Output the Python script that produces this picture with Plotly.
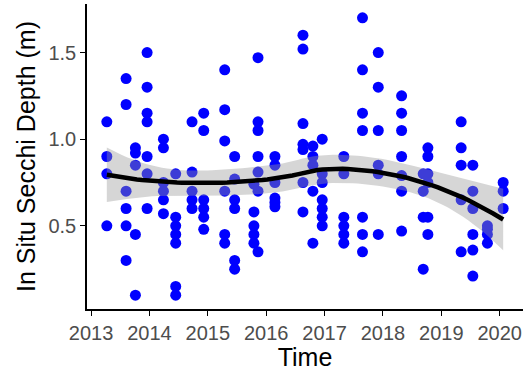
import numpy as np
import plotly.graph_objects as go

# Sampling dates (decimal years) and in situ Secchi depths (m), grouped by sampling date
sample_years = [2013.27, 2013.60, 2013.76, 2013.96, 2014.24, 2014.45, 2014.73, 2014.93,
                2015.29, 2015.46, 2015.79, 2015.86, 2016.15, 2016.63, 2016.80, 2016.96,
                2017.33, 2017.65, 2017.92, 2018.32, 2018.69, 2018.77, 2019.34, 2019.54,
                2019.79, 2020.06]
depths_by_date = [
    [1.10, 0.90, 0.80, 0.50],
    [1.35, 1.20, 0.70, 0.60, 0.50, 0.30],
    [0.95, 0.92, 0.85, 0.45, 0.10],
    [1.50, 1.30, 1.15, 1.10, 0.90, 0.80, 0.60],
    [1.00, 0.95, 0.75, 0.70, 0.65, 0.57],
    [0.80, 0.55, 0.50, 0.45, 0.40, 0.15, 0.10],
    [1.10, 0.81, 0.70, 0.65, 0.60],
    [1.15, 1.05, 0.65, 0.60, 0.55, 0.48],
    [1.40, 1.17, 0.99, 0.70, 0.45, 0.40],
    [0.90, 0.77, 0.65, 0.60, 0.30, 0.25],
    [0.74, 0.58, 0.50, 0.45, 0.40],
    [1.47, 1.10, 1.05, 0.90, 0.81, 0.70, 0.35],
    [0.90, 0.85, 0.75, 0.66, 0.635, 0.61],
    [1.60, 1.52, 1.09, 0.97, 0.94, 0.75, 0.58],
    [0.96, 0.90, 0.85, 0.70, 0.40],
    [1.00, 0.80, 0.75, 0.65, 0.60, 0.55, 0.50],
    [0.90, 0.80, 0.55, 0.50, 0.45, 0.40],
    [1.70, 1.40, 1.15, 1.05, 0.55, 0.45, 0.35],
    [1.50, 1.30, 1.05, 0.85, 0.80, 0.45],
    [1.25, 1.15, 1.05, 0.90, 0.79, 0.70, 0.47],
    [0.80, 0.70, 0.55, 0.25],
    [0.95, 0.90, 0.80, 0.75, 0.55, 0.45],
    [1.10, 0.95, 0.85, 0.65, 0.35],
    [0.85, 0.70, 0.60, 0.45, 0.36, 0.21],
    [0.50, 0.48, 0.45, 0.40],
    [0.75, 0.70, 0.60],
]
x_ticks = [2013, 2014, 2015, 2016, 2017, 2018, 2019, 2020]
y_ticks = [0.5, 1.0, 1.5]
smooth_span = 1.0

x = np.array([t for t, ds in zip(sample_years, depths_by_date) for _ in ds])
y = np.array([d for ds in depths_by_date for d in ds])


def loess_rows(xd, x0s, span=0.75):
    n = len(xd)
    q = int(np.floor(n * min(span, 1.0)))
    rows = []
    for x0 in x0s:
        d = np.abs(xd - x0)
        h = np.sort(d)[q - 1] * max(1.0, span)
        w = np.clip(1 - (d / h) ** 3, 0, None) ** 3
        X = np.column_stack([np.ones(n), xd - x0, (xd - x0) ** 2])
        XtW = X.T * w
        A = np.linalg.pinv(XtW @ X) @ XtW
        rows.append(A[0])
    return np.array(rows)


L = loess_rows(x, x, smooth_span)
res = y - L @ y
IL = np.eye(len(x)) - L
M = IL.T @ IL
one_delta = np.trace(M)
two_delta = np.trace(M @ M)
sigma = np.sqrt(np.sum(res ** 2) / one_delta)
df = one_delta ** 2 / two_delta
z = 1.959964
tq = z + (z ** 3 + z) / (4 * df) + (5 * z ** 5 + 16 * z ** 3 + 3 * z) / (96 * df ** 2)

xs = np.linspace(x.min(), x.max(), 80)
Ls = loess_rows(x, xs, smooth_span)
fit = Ls @ y
se = sigma * np.sqrt(np.sum(Ls ** 2, axis=1))
upper = fit + tq * se
lower = fit - tq * se

xr = [x.min() - 0.05 * (x.max() - x.min()), x.max() + 0.05 * (x.max() - x.min())]
yr = [y.min() - 0.05 * (y.max() - y.min()), y.max() + 0.05 * (y.max() - y.min())]

fig = go.Figure()
fig.add_trace(go.Scatter(x=x, y=y, mode="markers",
                         marker=dict(color="#0000FF", size=11, line=dict(width=0)),
                         showlegend=False, hoverinfo="skip"))
fig.add_trace(go.Scatter(x=np.concatenate([xs, xs[::-1]]),
                         y=np.concatenate([upper, lower[::-1]]),
                         fill="toself", fillcolor="rgba(153,153,153,0.4)",
                         line=dict(width=0), mode="lines", showlegend=False, hoverinfo="skip"))
fig.add_trace(go.Scatter(x=xs, y=fit, mode="lines", line=dict(color="black", width=4.5),
                         showlegend=False, hoverinfo="skip"))

font_family = "Liberation Sans, Arial, sans-serif"
axis_font = dict(family=font_family, size=20, color="#4D4D4D")
title_font = dict(family=font_family, size=25, color="black")
fig.update_layout(
    width=524, height=371,
    margin=dict(l=87, r=1, t=4, b=62),
    paper_bgcolor="white", plot_bgcolor="white",
    xaxis=dict(range=xr, tickvals=x_ticks, ticktext=[str(v) for v in x_ticks],
               showgrid=False, zeroline=False, showline=True, linecolor="black", linewidth=1.5,
               ticks="outside", ticklen=5, tickwidth=1.2, tickcolor="black", automargin=False,
               tickfont=axis_font, title=dict(text="Time", font=title_font, standoff=2)),
    yaxis=dict(range=yr, tickvals=y_ticks, ticktext=["0.5", "1.0", "1.5"],
               showgrid=False, zeroline=False, showline=True, linecolor="black", linewidth=1.5,
               ticks="outside", ticklen=5, tickwidth=1.2, tickcolor="black", automargin=False,
               tickfont=axis_font, title=dict(text="In Situ Secchi Depth (m)", font=title_font, standoff=6)),
)
fig.write_html("out.html", config={"displayModeBar": False},
               post_script="document.body.style.margin='0';document.body.style.overflow='hidden';")
